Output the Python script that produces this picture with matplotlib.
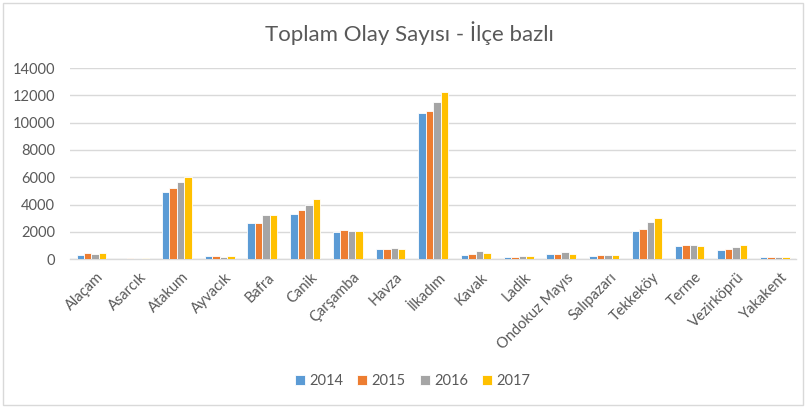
import numpy as np
import matplotlib.pyplot as plt
from matplotlib.patches import Rectangle

plt.rcParams['font.family'] = ['Lato', 'DejaVu Sans']

ilceler = ['Alaçam', 'Asarcık', 'Atakum', 'Ayvacık', 'Bafra', 'Canik', 'Çarşamba',
           'Havza', 'İlkadım', 'Kavak', 'Ladik', 'Ondokuz Mayıs', 'Salıpazarı',
           'Tekkeköy', 'Terme', 'Vezirköprü', 'Yakakent']
yillar = ['2014', '2015', '2016', '2017']

y2014 = [320, 0, 4950, 195, 2630, 3340, 2000, 710, 10680, 270, 150, 390, 245, 2070, 930, 660, 170]
y2015 = [440, 100, 5200, 195, 2630, 3590, 2120, 710, 10880, 390, 170, 340, 290, 2220, 1020, 760, 170]
y2016 = [390, 100, 5680, 170, 3240, 4000, 2070, 830, 11510, 560, 245, 490, 290, 2710, 1000, 880, 150]
y2017 = [415, 75, 6000, 245, 3220, 4390, 2070, 760, 12240, 440, 245, 390, 290, 2980, 930, 1020, 170]
renkler = ['#5B9BD5', '#ED7D31', '#A5A5A5', '#FFC000']

yazi = '#595959'

fig = plt.figure(figsize=(8.06, 4.08), dpi=100)
ax = fig.add_axes([0.087, 0.365, 0.901, 0.468])

x = np.arange(len(ilceler))
w = 0.175
for i, seri in enumerate([y2014, y2015, y2016, y2017]):
    ax.bar(x + (i - 1.5) * w, seri, w, color=renkler[i], edgecolor='white',
           linewidth=0.6, label=yillar[i], zorder=3)

ax.set_ylim(0, 14000)
ax.set_xlim(-0.5, len(ilceler) - 0.5)
ax.set_yticks(range(0, 14001, 2000))
ax.grid(axis='y', color='#d9d9d9', linewidth=1, zorder=0)
for s in ['top', 'right', 'left']:
    ax.spines[s].set_visible(False)
ax.spines['bottom'].set_color('#d9d9d9')
ax.spines['bottom'].set_linewidth(1)
ax.tick_params(length=0, colors=yazi)
ax.tick_params(axis='y', pad=11, labelsize=10.5)
ax.tick_params(axis='x', pad=8, labelsize=10.5)
ax.set_xticks(x + 0.12)
ax.set_xticklabels(ilceler, rotation=45, ha='right', rotation_mode='anchor')

fig.text(0.508, 0.918, 'Toplam Olay Sayısı - İlçe bazlı', ha='center', va='center',
         fontsize=16, color=yazi)

ax.legend(loc='center', bbox_to_anchor=(0.512, 0.066), bbox_transform=fig.transFigure,
          ncol=4, frameon=False, fontsize=10.5, handlelength=0.65, handleheight=0.65,
          handletextpad=0.3, columnspacing=1.0, labelcolor=yazi)

fig.patches.append(Rectangle((0.004, 0.008), 0.992, 0.985, transform=fig.transFigure,
                             fill=False, edgecolor='#d9d9d9', linewidth=1))

plt.savefig('out.png')
